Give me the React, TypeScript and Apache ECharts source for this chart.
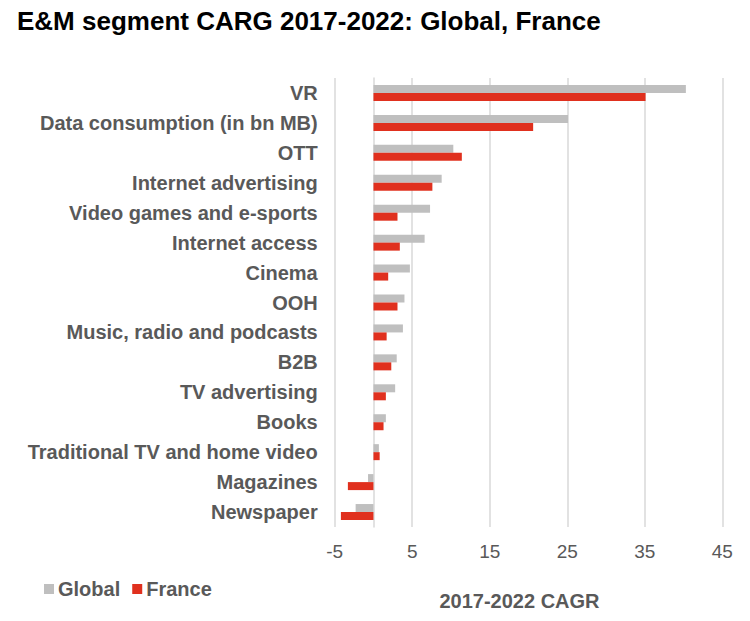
import React, { useEffect, useRef } from "react";
import * as echarts from "echarts";

const categories = [
  "VR",
  "Data consumption (in bn MB)",
  "OTT",
  "Internet advertising",
  "Video games and e-sports",
  "Internet access",
  "Cinema",
  "OOH",
  "Music, radio and podcasts",
  "B2B",
  "TV advertising",
  "Books",
  "Traditional TV and home video",
  "Magazines",
  "Newspaper",
];
const globalValues = [40.3, 25.1, 10.3, 8.8, 7.3, 6.6, 4.7, 4.0, 3.8, 3.0, 2.8, 1.6, 0.7, -0.7, -2.3];
const franceValues = [35.1, 20.6, 11.4, 7.6, 3.1, 3.4, 1.9, 3.1, 1.7, 2.3, 1.6, 1.3, 0.8, -3.3, -4.2];
const xMin = -5;
const xMax = 45;
const xInterval = 10;

const FONT = "'Liberation Sans', Arial, sans-serif";
const TEXT = "#595959";

export default function App() {
  const ref = useRef<HTMLDivElement>(null);
  useEffect(() => {
    if (!ref.current) return;
    const chart = echarts.init(ref.current, undefined, { renderer: "svg" });
    chart.setOption({
      animation: false,
      backgroundColor: "#ffffff",
      textStyle: { fontFamily: FONT },
      title: {
        text: "E&M segment CARG 2017-2022: Global, France",
        left: 12,
        top: 3,
        textStyle: { fontFamily: FONT, fontSize: 26, fontWeight: "bold", color: "#000000" },
      },
      legend: {
        left: 39,
        top: 574,
        itemWidth: 10,
        itemHeight: 10,
        itemGap: 12,
        icon: "rect",
        textStyle: { fontFamily: FONT, fontSize: 20, fontWeight: "bold", color: TEXT, padding: [0, 0, 0, -1] },
        data: ["Global", "France"],
      },
      grid: {
        left: 334.7,
        right: 27.7,
        top: 78,
        bottom: 94,
        containLabel: false,
        outerBoundsMode: "none",
      },
      xAxis: {
        type: "value",
        min: xMin,
        max: xMax,
        interval: xInterval,
        axisLine: { show: false },
        axisTick: { show: false },
        splitLine: { show: true, lineStyle: { color: "#D9D9D9", width: 1.5 } },
        axisLabel: { fontFamily: FONT, fontSize: 19, color: TEXT, margin: 15 },
      },
      yAxis: {
        type: "category",
        data: categories,
        inverse: true,
        axisLine: { show: true, onZero: true, lineStyle: { color: "#D9D9D9", width: 1.5 } },
        axisTick: { show: false },
        axisLabel: { fontFamily: FONT, fontSize: 20, fontWeight: "bold", color: TEXT, margin: 17 },
      },
      graphic: [
        {
          type: "text",
          x: 519.5,
          y: 601,
          style: {
            text: "2017-2022 CAGR",
            fontFamily: FONT,
            fontSize: 20,
            fontWeight: "bold",
            fill: TEXT,
            align: "center",
            verticalAlign: "middle",
          },
        },
      ],
      series: [
        {
          name: "Global",
          type: "bar",
          data: globalValues,
          barWidth: 8,
          barGap: "0%",
          itemStyle: { color: "#BFBFBF" },
        },
        {
          name: "France",
          type: "bar",
          data: franceValues,
          barWidth: 8,
          barGap: "0%",
          itemStyle: { color: "#E0301E" },
        },
      ],
    });
    return () => chart.dispose();
  }, []);
  return <div ref={ref} style={{ position: "fixed", left: 0, top: 0, width: 750, height: 621 }} />;
}
